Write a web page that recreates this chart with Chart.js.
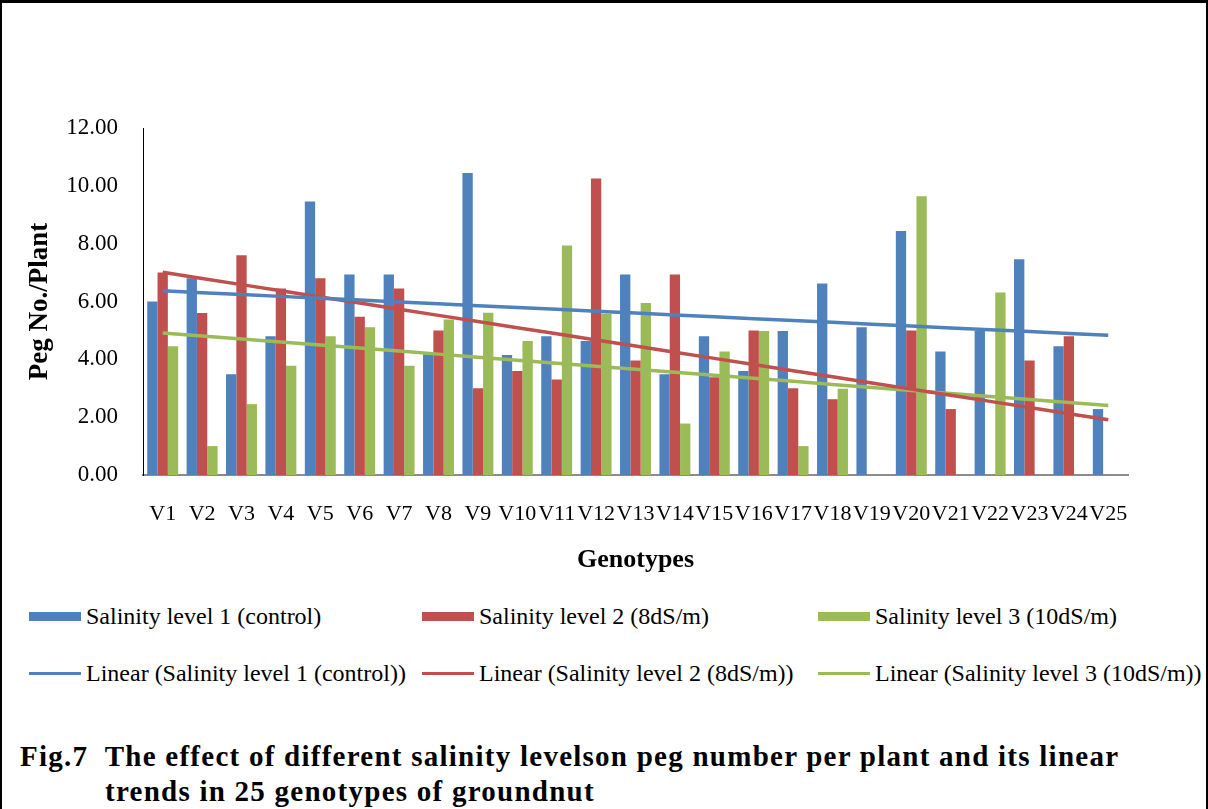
<!DOCTYPE html>
<html>
<head>
<meta charset="utf-8">
<script src="https://cdn.jsdelivr.net/npm/chart.js@4/dist/chart.umd.min.js"></script>
<style>
  html, body { margin: 0; padding: 0; background: #fff; }
  body { width: 1208px; height: 809px; position: relative; overflow: hidden; font-family: "Liberation Serif", "Times New Roman", serif; }
  #frame { position: absolute; left: 0; top: 0; width: 1208px; height: 830px; box-sizing: border-box;
           border-top: 3px solid #000; border-left: 2px solid #000; border-right: 2px solid #000; }
  #chart { position: absolute; left: 0; top: 0; }
  .legend { position: absolute; left: 0; top: 0; font-family: "Liberation Serif", "Times New Roman", serif; font-size: 24px; color: #000; }
  .item { position: absolute; display: flex; align-items: center; white-space: nowrap; height: 30px; }
  .swatch { width: 52px; height: 9px; margin-right: 5px; }
  .stroke { width: 52px; height: 3px; margin-right: 5px; }
  #caption { position: absolute; left: 20px; top: 739px; font-family: "Liberation Serif", "Times New Roman", serif;
             font-weight: bold; font-size: 29px; line-height: 35px; letter-spacing: 1.25px; color: #000; white-space: nowrap; }
  #caption .second { padding-left: 85px; }
</style>
</head>
<body>
<div id="frame"></div>
<canvas id="chart" width="1208" height="600"></canvas>
<div class="legend" id="legend"></div>
<div id="caption">
  <div>Fig.7&nbsp; The effect of different salinity levelson peg number per plant and its linear</div>
  <div class="second">trends in 25 genotypes of groundnut</div>
</div>
<script>
// Genotypes on the category axis
const genotypes = ['V1','V2','V3','V4','V5','V6','V7','V8','V9','V10','V11','V12','V13',
                   'V14','V15','V16','V17','V18','V19','V20','V21','V22','V23','V24','V25'];

// Peg number per plant at each salinity level (null = no value recorded)
const salinity1 = [6.00, 6.80, 3.48, 4.80, 9.46, 6.93, 6.93, 4.18, 10.44, 4.15, 4.80, 4.63, 6.93,
                   3.48, 4.80, 3.60, 4.98, 6.62, 5.11, 8.44, 4.27, 4.98, 7.46, 4.45, 2.28];
const salinity2 = [7.00, 5.60, 7.60, 6.45, 6.80, 5.47, 6.45, 5.00, 3.00, 3.60, 3.30, 10.25, 3.96,
                   6.93, 3.38, 5.00, 3.00, 2.62, null, 5.00, 2.28, null, 3.96, 4.80, null];
const salinity3 = [4.45, 1.00, 2.45, 3.78, 4.80, 5.11, 3.78, 5.38, 5.61, 4.63, 7.94, 5.58, 5.95,
                   1.78, 4.27, 4.98, 1.00, 2.98, null, 9.64, null, 6.31, null, null, null];

const seriesNames = ['Salinity level 1 (control)', 'Salinity level 2 (8dS/m)', 'Salinity level 3 (10dS/m)'];
const seriesColors = ['#4F81BD', '#C0504D', '#9BBB59'];

// Value axis: 0.00 … 12.00 in steps of 2
const yMin = 0, yMax = 12, yStep = 2;

// Least-squares straight line over the category index; blank cells count as 0
function linearTrend(values) {
  const n = values.length;
  const ys = values.map(v => v == null ? 0 : v);
  const xs = ys.map((_, i) => i + 1);
  const mx = xs.reduce((a, b) => a + b, 0) / n;
  const my = ys.reduce((a, b) => a + b, 0) / n;
  let sxy = 0, sxx = 0;
  for (let i = 0; i < n; i++) { sxy += (xs[i] - mx) * (ys[i] - my); sxx += (xs[i] - mx) ** 2; }
  const slope = sxy / sxx;
  return xs.map(x => my + slope * (x - mx));
}

const barSeries = [salinity1, salinity2, salinity3];
const serif = "'Liberation Serif', 'Times New Roman', serif";

const datasets = [];
barSeries.forEach((vals, i) => {
  datasets.push({
    type: 'bar', label: seriesNames[i], data: vals, backgroundColor: seriesColors[i],
    borderWidth: 0, categoryPercentage: 0.785, barPercentage: 1.0, order: 2
  });
});
barSeries.forEach((vals, i) => {
  datasets.push({
    type: 'line', label: 'Linear (' + seriesNames[i] + ')', data: linearTrend(vals),
    borderColor: seriesColors[i], borderWidth: 3.5, pointRadius: 0, tension: 0, fill: false, order: 1
  });
});

new Chart(document.getElementById('chart'), {
  data: { labels: genotypes, datasets },
  options: {
    responsive: false,
    animation: false,
    layout: { padding: { left: 0, right: 80, top: 128, bottom: 0 } },
    plugins: { legend: { display: false }, tooltip: { enabled: false }, title: { display: false } },
    scales: {
      x: {
        grid: { display: false, drawTicks: false },
        border: { display: true, color: '#8C8C8C', width: 2 },
        ticks: { color: '#000', font: { family: serif, size: 22 }, padding: 26,
                 autoSkip: false, maxRotation: 0, minRotation: 0 },
        title: { display: true, text: 'Genotypes', color: '#000',
                 font: { family: serif, size: 26, weight: 'bold' }, padding: { top: 0, bottom: 24 } },
        afterFit(scale) { scale.height = 125; }
      },
      y: {
        min: yMin, max: yMax,
        grid: { display: false, drawTicks: false },
        border: { display: true, color: '#000', width: 1 },
        ticks: { stepSize: yStep, color: '#000', font: { family: serif, size: 23 }, padding: 25,
                 callback: v => Number(v).toFixed(2) },
        title: { display: true, text: 'Peg No./Plant', color: '#000',
                 font: { family: serif, size: 27, weight: 'bold' }, padding: { top: 24, bottom: 0 } },
        afterFit(scale) { scale.width = 143; }
      }
    }
  }
});

// Two-row legend laid out in three columns
const legendCols = [29, 422, 818];
const legendRows = [601, 658];
const legendEl = document.getElementById('legend');
seriesNames.forEach((name, i) => {
  const bar = document.createElement('div');
  bar.className = 'item';
  bar.style.left = legendCols[i] + 'px';
  bar.style.top = legendRows[0] + 'px';
  bar.innerHTML = '<span class="swatch" style="background:' + seriesColors[i] + '"></span>' + name;
  legendEl.appendChild(bar);

  const line = document.createElement('div');
  line.className = 'item';
  line.style.left = legendCols[i] + 'px';
  line.style.top = legendRows[1] + 'px';
  line.innerHTML = '<span class="stroke" style="background:' + seriesColors[i] + '"></span>Linear (' + name + ')';
  legendEl.appendChild(line);
});
</script>
</body>
</html>
